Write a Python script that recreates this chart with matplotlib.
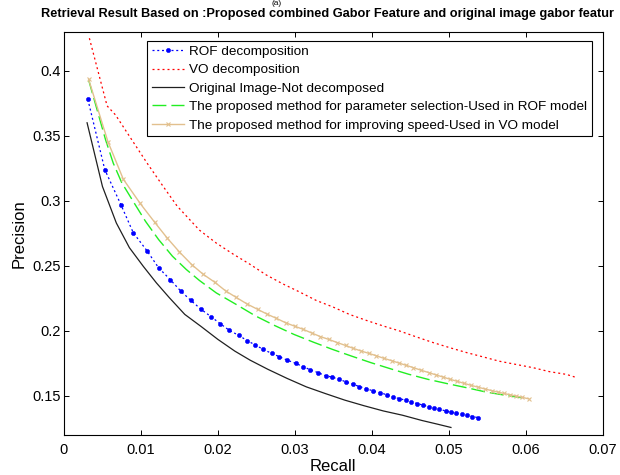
import matplotlib
matplotlib.use("Agg")
import matplotlib.pyplot as plt

plt.rcParams['font.family'] = ['Liberation Sans', 'DejaVu Sans']

# Title as visible in the reference (it is cropped at the right edge there)
title = "Retrieval Result Based on :Proposed combined Gabor Feature and original image gabor featur"
xlabel = "Recall"
ylabel = "Precision"
xticks = [0, 0.01, 0.02, 0.03, 0.04, 0.05, 0.06, 0.07]
xticklabels = ["0", "0.01", "0.02", "0.03", "0.04", "0.05", "0.06", "0.07"]
yticks = [0.15, 0.2, 0.25, 0.3, 0.35, 0.4]
yticklabels = ["0.15", "0.2", "0.25", "0.3", "0.35", "0.4"]

labels = ["ROF decomposition",
          "VO decomposition",
          "Original Image-Not decomposed",
          "The proposed method for parameter selection-Used in ROF model",
          "The proposed method for improving speed-Used in VO model"]

# ROF decomposition
rof_x = [0.0031, 0.0053, 0.0074, 0.0090, 0.0108, 0.0123, 0.0138, 0.0152, 0.0165, 0.0178,
         0.0191, 0.0203, 0.0215, 0.0227, 0.0238, 0.0248, 0.0259, 0.0270, 0.0280, 0.0290,
         0.0301, 0.0311, 0.0320, 0.0330, 0.0340, 0.0349, 0.0358, 0.0367, 0.0376, 0.0384,
         0.0393, 0.0402, 0.0411, 0.0420, 0.0428, 0.0436, 0.0444, 0.0451, 0.0459, 0.0467,
         0.0474, 0.0481, 0.0488, 0.0496, 0.0503, 0.0510, 0.0517, 0.0524, 0.0531, 0.0538]
rof_y = [0.378, 0.324, 0.297, 0.2755, 0.2615, 0.2485, 0.2395, 0.2305, 0.2234, 0.2167,
         0.2110, 0.2056, 0.2004, 0.1966, 0.1926, 0.1894, 0.1858, 0.1827, 0.1802, 0.1776,
         0.1751, 0.1725, 0.1702, 0.1680, 0.1656, 0.1644, 0.1628, 0.1607, 0.1590, 0.1572,
         0.1557, 0.1538, 0.1526, 0.1508, 0.1492, 0.1480, 0.1467, 0.1454, 0.1442, 0.1429,
         0.1419, 0.1408, 0.1398, 0.1385, 0.1375, 0.1367, 0.1360, 0.1352, 0.1342, 0.1334]

# VO decomposition
vo_x = [0.0033, 0.0056, 0.0067, 0.0088, 0.0108, 0.0129, 0.0147, 0.0176, 0.0198, 0.0220,
        0.0241, 0.0263, 0.0285, 0.0306, 0.0328, 0.0350, 0.0371, 0.0393, 0.0415, 0.0436,
        0.0458, 0.0480, 0.0501, 0.0523, 0.0545, 0.0566, 0.0588, 0.0610, 0.0631, 0.0653, 0.0667]
vo_y = [0.425, 0.373, 0.366, 0.347, 0.329, 0.311, 0.296, 0.2775, 0.2675, 0.259,
        0.2515, 0.243, 0.236, 0.230, 0.2234, 0.2183, 0.2127, 0.2081, 0.2038, 0.200,
        0.1954, 0.191, 0.1872, 0.1834, 0.180, 0.1767, 0.1742, 0.1717, 0.1687, 0.1666, 0.164]

# Original image - not decomposed
orig_x = [0.0030, 0.0050, 0.0068, 0.0085, 0.0103, 0.0120, 0.0137, 0.0157, 0.0178, 0.0200,
          0.0222, 0.0242, 0.0265, 0.0290, 0.0315, 0.0340, 0.0365, 0.0390, 0.0415, 0.0440,
          0.0465, 0.0485, 0.0503]
orig_y = [0.360, 0.311, 0.283, 0.264, 0.2497, 0.237, 0.2255, 0.2127, 0.2035, 0.1935,
          0.1845, 0.1775, 0.1705, 0.1635, 0.157, 0.1518, 0.1468, 0.1425, 0.1385, 0.1352,
          0.1312, 0.1284, 0.1258]

# Proposed method for parameter selection (ROF)
param_x = [0.0032, 0.0043, 0.0054, 0.0064, 0.0075, 0.0090, 0.0106, 0.0123, 0.0141, 0.0159,
           0.0176, 0.0198, 0.0224, 0.0249, 0.0274, 0.0299, 0.0324, 0.0349, 0.0374, 0.0399,
           0.0425, 0.0448, 0.0473, 0.0498, 0.0523, 0.0548, 0.0574, 0.0600]
param_y = [0.393, 0.370, 0.347, 0.329, 0.314, 0.2995, 0.2842, 0.2702, 0.2574, 0.2472,
           0.2388, 0.2292, 0.2203, 0.2115, 0.2041, 0.1973, 0.1914, 0.1858, 0.1806, 0.1756,
           0.1708, 0.1667, 0.1628, 0.1595, 0.1564, 0.1531, 0.1505, 0.1482]

# Proposed method for improving speed (VO)
speed_x = [0.0032, 0.0057, 0.0077, 0.0099, 0.0118, 0.0134, 0.0150, 0.0166, 0.0181, 0.0196,
           0.0210, 0.0224, 0.0238, 0.0252, 0.0264, 0.0276, 0.0288, 0.0300, 0.0311, 0.0322,
           0.0333, 0.0344, 0.0355, 0.0366, 0.0376, 0.0386, 0.0396, 0.0406, 0.0416, 0.0426,
           0.0436, 0.0445, 0.0454, 0.0464, 0.0474, 0.0484, 0.0493, 0.0502, 0.0511, 0.0520,
           0.0529, 0.0538, 0.0547, 0.0556, 0.0564, 0.0572, 0.0580, 0.0588, 0.0596, 0.0604]
speed_y = [0.3934, 0.3456, 0.3167, 0.2980, 0.2834, 0.2715, 0.2607, 0.2510, 0.2435, 0.2374,
           0.2308, 0.2257, 0.2207, 0.2165, 0.2129, 0.2097, 0.2063, 0.2036, 0.2012, 0.1984,
           0.1957, 0.1935, 0.1911, 0.1888, 0.1866, 0.1846, 0.1828, 0.1809, 0.1789, 0.1771,
           0.1752, 0.1735, 0.1718, 0.1698, 0.1680, 0.1661, 0.1645, 0.1628, 0.1613, 0.1597,
           0.1582, 0.1568, 0.1554, 0.1541, 0.1530, 0.1519, 0.1509, 0.1499, 0.1489, 0.1478]

fig = plt.figure(figsize=(6.2, 4.75), dpi=100)
W, H = 620, 475
ax = fig.add_axes([64 / W, 1 - 435 / H, (602.5 - 64) / W, (435 - 31.7) / H])

ax.plot(rof_x, rof_y, color='#0000ff', linestyle=(0, (1.6, 2.2)), linewidth=0.9,
        marker='o', markersize=3.0, markeredgewidth=0.4, label=labels[0])
ax.plot(vo_x, vo_y, color='#ff0000', linestyle=(0, (1.6, 2.4)), linewidth=0.9, label=labels[1])
ax.plot(orig_x, orig_y, color='#202020', linestyle='-', linewidth=0.9, label=labels[2])
ax.plot(param_x, param_y, color='#22ee22', linestyle=(0, (10, 3.6)), linewidth=1.0, label=labels[3])
ax.plot(speed_x, speed_y, color='#e2c08e', linestyle='-', linewidth=1.0,
        marker='x', markersize=3.5, markeredgewidth=0.8, label=labels[4])

ax.set_xlim(0, 0.07)
ax.set_ylim(0.12, 0.43)
ax.set_xticks(xticks)
ax.set_xticklabels(xticklabels)
ax.set_yticks(yticks)
ax.set_yticklabels(yticklabels)
ax.tick_params(direction='in', length=3.6, width=0.7, top=True, right=True,
               labelsize=10.5, pad=2.5)
ax.tick_params(axis='x', pad=6)
for s in ax.spines.values():
    s.set_linewidth(0.8)
    s.set_color('black')

ax.set_xlabel(xlabel, fontsize=12, labelpad=1)
ax.set_ylabel(ylabel, fontsize=12, labelpad=4)
fig.text(41 / W, 1 - 14 / H, title, fontsize=9.2, fontweight='bold', ha='left', va='center')

fig.text(277 / W, 0.999, "(a)", fontsize=6, ha='center', va='top')

leg = ax.legend(loc='upper right', bbox_to_anchor=(0.9805, 0.977), borderaxespad=0,
                fontsize=9.7, frameon=True, fancybox=False, framealpha=1,
                edgecolor='black', handlelength=2.4, handletextpad=0.4,
                labelspacing=0.44, borderpad=0.35)
leg.get_frame().set_linewidth(0.8)

fig.savefig("out.png", dpi=100)
